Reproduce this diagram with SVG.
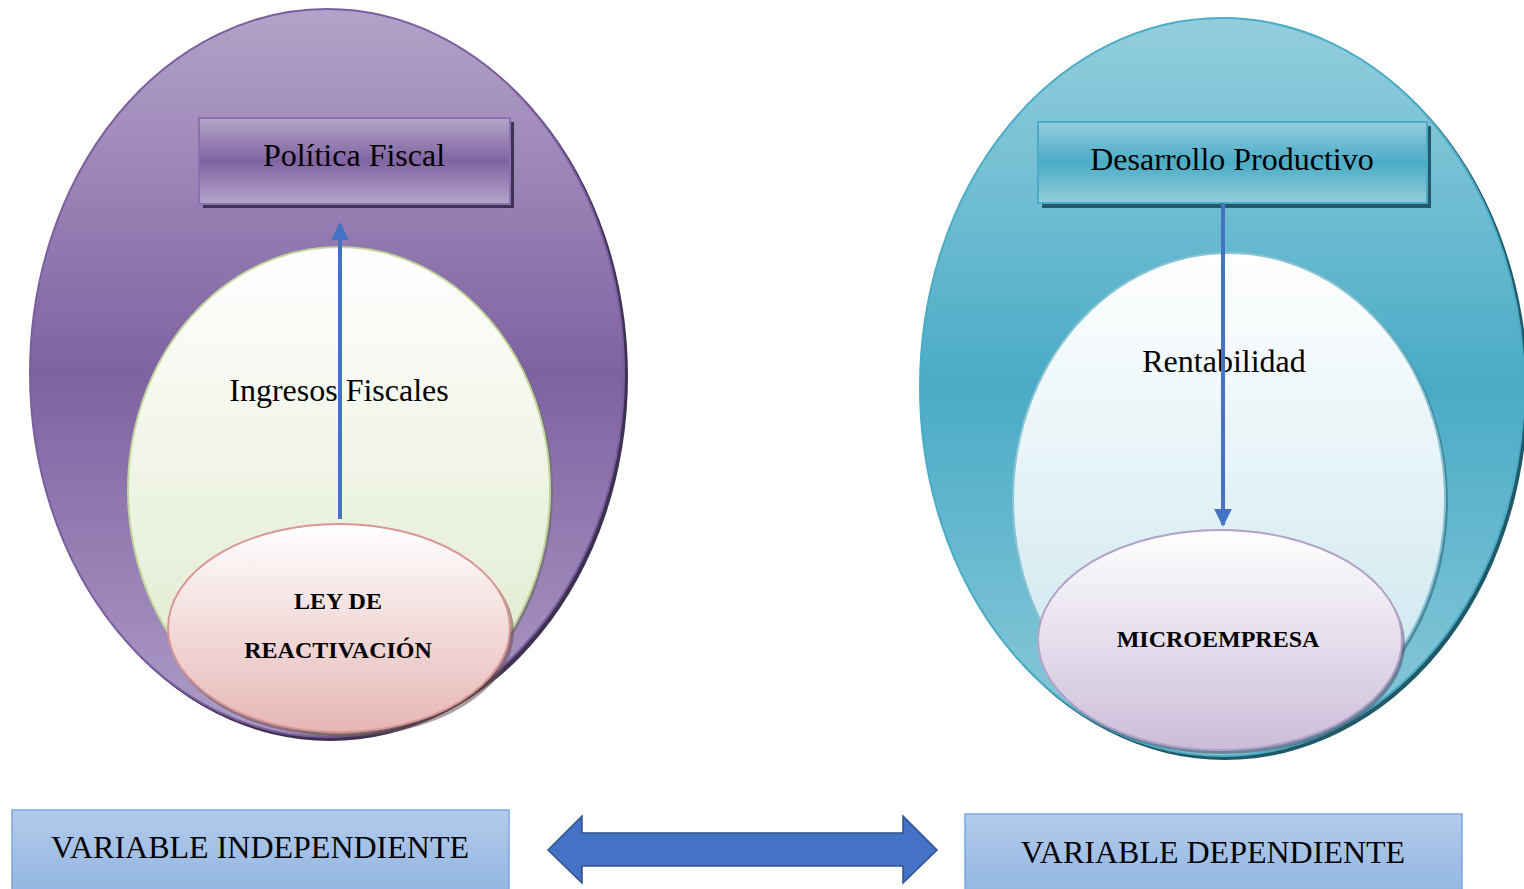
<svg xmlns="http://www.w3.org/2000/svg" width="1524" height="889" viewBox="0 0 1524 889">
<defs>
<linearGradient id="gPurple" x1="0" y1="0" x2="0" y2="1">
<stop offset="0" stop-color="#b3a2c9"/><stop offset="0.5" stop-color="#7f62a1"/><stop offset="1" stop-color="#ae9cc6"/>
</linearGradient>
<linearGradient id="gTeal" x1="0" y1="0" x2="0" y2="1">
<stop offset="0" stop-color="#93cedd"/><stop offset="0.5" stop-color="#4aabc6"/><stop offset="1" stop-color="#8ecbda"/>
</linearGradient>
<linearGradient id="gPurpleBox" x1="0" y1="0" x2="0" y2="1">
<stop offset="0" stop-color="#b5a5ca"/><stop offset="0.5" stop-color="#8064a2"/><stop offset="1" stop-color="#b5a5ca"/>
</linearGradient>
<linearGradient id="gTealBox" x1="0" y1="0" x2="0" y2="1">
<stop offset="0" stop-color="#93cedd"/><stop offset="0.5" stop-color="#4bacc6"/><stop offset="1" stop-color="#93cedd"/>
</linearGradient>
<linearGradient id="gGreen" x1="0" y1="0" x2="0" y2="1">
<stop offset="0" stop-color="#ffffff"/><stop offset="1" stop-color="#dde8c9"/>
</linearGradient>
<linearGradient id="gPink" x1="0" y1="0" x2="0" y2="1">
<stop offset="0" stop-color="#ffffff"/><stop offset="1" stop-color="#e6b7b6"/>
</linearGradient>
<linearGradient id="gIce" x1="0" y1="0" x2="0" y2="1">
<stop offset="0" stop-color="#ffffff"/><stop offset="1" stop-color="#c6e4ed"/>
</linearGradient>
<linearGradient id="gLilac" x1="0" y1="0" x2="0" y2="1">
<stop offset="0" stop-color="#ffffff"/><stop offset="1" stop-color="#cbbdd9"/>
</linearGradient>
<linearGradient id="gBlue" x1="0" y1="0" x2="0" y2="1">
<stop offset="0" stop-color="#b3cbea"/><stop offset="1" stop-color="#93b6e2"/>
</linearGradient>
<marker id="ah" viewBox="0 0 10 10" refX="9" refY="5" markerWidth="4.5" markerHeight="4.5" orient="auto" markerUnits="strokeWidth">
<path d="M0,0 L10,5 L0,10 z" fill="#4472c4"/>
</marker>
<style>
.t{font-family:"Liberation Serif","Times New Roman",serif;fill:#000;text-anchor:middle}
.big{font-size:32px}
.bold{font-size:24px;font-weight:bold}
.var{font-size:32px}
.conn{stroke:#4472c4;stroke-width:4;fill:none}
</style>
</defs>

<g id="left-outer">
<ellipse cx="330" cy="376" rx="298" ry="365" fill="#3f3151"/>
<ellipse cx="327" cy="373" rx="297" ry="364" fill="url(#gPurple)" stroke="#7a5fa0" stroke-width="2"/>
</g>
<g id="left-inner">
<ellipse cx="341" cy="492" rx="212" ry="244" fill="#6b6b6b" opacity="0.6"/>
<ellipse cx="339" cy="490" rx="211" ry="243" fill="url(#gGreen)" stroke="#c3d69b" stroke-width="2"/>
</g>
<g id="politica-fiscal">
<rect x="203" y="122" width="311" height="86" fill="#3f3151"/>
<rect x="199" y="118" width="311" height="86" fill="url(#gPurpleBox)" stroke="#8c70b4" stroke-width="2"/>
<text class="t big" x="354" y="166">Política Fiscal</text>
</g>
<g id="ley-reactivacion">
<ellipse cx="342" cy="632" rx="172" ry="105" fill="#6b5050" opacity="0.55"/>
<ellipse cx="339" cy="628" rx="171" ry="104" fill="url(#gPink)" stroke="#d99694" stroke-width="2"/>
<text class="t bold" x="338" y="609">LEY DE</text>
<text class="t bold" x="338" y="658">REACTIVACIÓN</text>
</g>
<g id="ingresos-label">
<text class="t big" x="339" y="401">Ingresos Fiscales</text>
</g>

<g id="right-outer">
<ellipse cx="1225" cy="390" rx="303" ry="370" fill="#215968"/>
<ellipse cx="1222" cy="387" rx="302" ry="369" fill="url(#gTeal)" stroke="#4bacc6" stroke-width="2"/>
</g>
<g id="right-inner">
<ellipse cx="1231" cy="502" rx="217" ry="248" fill="#2e6b7c" opacity="0.6"/>
<ellipse cx="1229" cy="500" rx="216" ry="247" fill="url(#gIce)" stroke="#8cc4d3" stroke-width="2"/>
</g>
<g id="desarrollo-productivo">
<rect x="1042" y="126" width="389" height="82" fill="#215968"/>
<rect x="1038" y="122" width="389" height="81" fill="url(#gTealBox)" stroke="#4bacc6" stroke-width="2"/>
<text class="t big" x="1232" y="170">Desarrollo Productivo</text>
</g>
<g id="microempresa">
<ellipse cx="1223" cy="644" rx="182" ry="110" fill="#4d4d66" opacity="0.55"/>
<ellipse cx="1220" cy="640" rx="182" ry="110" fill="url(#gLilac)" stroke="#b2a1c7" stroke-width="2"/>
<text class="t bold" x="1218" y="647">MICROEMPRESA</text>
</g>
<g id="rentabilidad-label">
<text class="t big" x="1224" y="372">Rentabilidad</text>
</g>

<g id="connectors">
<line class="conn" x1="340" y1="519" x2="340" y2="224" marker-end="url(#ah)"/>
<line class="conn" x1="1223" y1="203" x2="1223" y2="525" marker-end="url(#ah)"/>
<path d="M548,850 L582,816 L582,833 L903,833 L903,816 L937,850 L903,883 L903,866 L582,866 L582,883 Z" fill="#4472c4" stroke="#2f528f" stroke-width="1.5"/>
</g>

<g id="variable-independiente">
<rect x="12" y="810" width="497" height="82" fill="url(#gBlue)" stroke="#7ba7dc" stroke-width="1.5"/>
<text class="t var" x="260" y="858">VARIABLE INDEPENDIENTE</text>
</g>
<g id="variable-dependiente">
<rect x="965" y="814" width="497" height="80" fill="url(#gBlue)" stroke="#7ba7dc" stroke-width="1.5"/>
<text class="t var" x="1213" y="863">VARIABLE DEPENDIENTE</text>
</g>
</svg>
